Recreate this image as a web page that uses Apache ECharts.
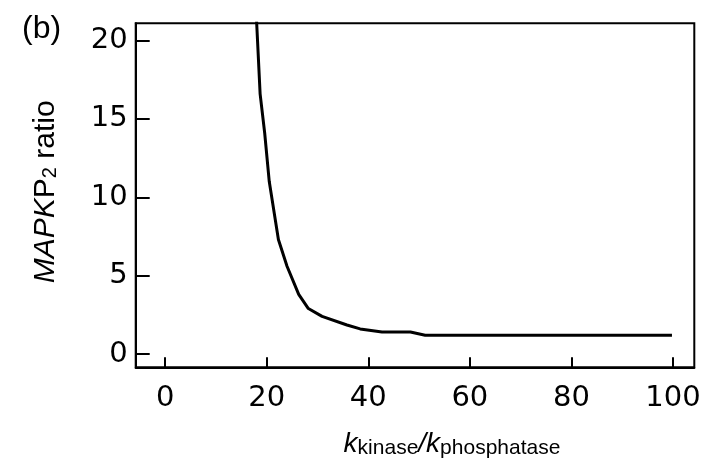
<!DOCTYPE html>
<html>
<head>
<meta charset="utf-8">
<script src="https://cdn.jsdelivr.net/npm/echarts@6/dist/echarts.min.js"></script>
<style>
  html, body { margin: 0; padding: 0; background: #fff; }
  #chart { width: 712px; height: 469px; }
</style>
</head>
<body>
<div id="chart"></div>
<script>
// Ratio of doubly phosphorylated MAPK versus kinase/phosphatase rate ratio
const rateRatio = [17.95, 18.7, 19.6, 20.5, 22.3, 24.0, 26.3, 28.2, 30.9, 35.8, 38.4, 42.7, 48.3, 51.2, 99.8];
const mapkp2Ratio = [21.6, 16.6, 14.1, 11.0, 7.3, 5.6, 3.8, 2.9, 2.4, 1.85, 1.6, 1.4, 1.4, 1.2, 1.2];

const xTicks = [0, 20, 40, 60, 80, 100];
const yTicks = [0, 5, 10, 15, 20];

const panelLabel = '(b)';

const tickFont = 'DejaVu Sans';
const nameFont = 'Liberation Sans';

const chart = echarts.init(document.getElementById('chart'), null, { renderer: 'canvas' });

const seriesData = rateRatio.map((x, i) => [x, mapkp2Ratio[i]]);

chart.setOption({
  backgroundColor: '#fff',
  animation: false,
  title: {
    text: panelLabel,
    left: 17,
    top: 8,
    textStyle: { fontFamily: nameFont, fontSize: 32, fontWeight: 'normal', color: '#000' }
  },
  grid: {
    left: 135.7, right: 17.7, top: 23.3, bottom: 101.7,
    show: true, borderColor: '#000', borderWidth: 2, backgroundColor: 'transparent'
  },
  xAxis: {
    type: 'value',
    min: -5.8, max: 104.2,
    axisLine: { show: true, onZero: false, lineStyle: { color: '#000', width: 2 } },
    axisTick: { show: true, inside: true, length: 10, customValues: xTicks, lineStyle: { color: '#000', width: 2 } },
    axisLabel: {
      show: true, customValues: xTicks, margin: 17,
      fontFamily: tickFont, fontSize: 29, color: '#000'
    },
    splitLine: { show: false },
    name: '{k|k}{s|kinase}{k|/k}{s|phosphatase}',
    nameLocation: 'middle',
    nameGap: 63,
    nameTextStyle: {
      padding: [0, 0, 0, 74],
      rich: {
        k: { fontFamily: nameFont, fontSize: 28, fontStyle: 'italic', color: '#000', lineHeight: 28, verticalAlign: 'top' },
        s: { fontFamily: nameFont, fontSize: 21, color: '#000', lineHeight: 21, verticalAlign: 'bottom', padding: [13, 0, 0, 0] }
      }
    }
  },
  yAxis: {
    type: 'value',
    min: -0.85, max: 21.1,
    axisLine: { show: true, onZero: false, lineStyle: { color: '#000', width: 2 } },
    axisTick: { show: true, inside: true, length: 14, customValues: yTicks, lineStyle: { color: '#000', width: 2 } },
    axisLabel: {
      show: true, customValues: yTicks, margin: 8,
      fontFamily: tickFont, fontSize: 29, color: '#000'
    },
    splitLine: { show: false },
    name: '{i|MAPK}{n|P}{s|2}{n| ratio}',
    nameLocation: 'middle',
    nameRotate: 90,
    nameGap: 75,
    nameTextStyle: {
      padding: [0, 0, 0, 7],
      rich: {
        i: { fontFamily: nameFont, fontSize: 30, fontStyle: 'italic', color: '#000', lineHeight: 30, verticalAlign: 'top' },
        n: { fontFamily: nameFont, fontSize: 30, color: '#000', lineHeight: 30, verticalAlign: 'top' },
        s: { fontFamily: nameFont, fontSize: 20, color: '#000', lineHeight: 20, verticalAlign: 'bottom', padding: [14, 0, 0, 0] }
      }
    }
  },
  series: [{
    type: 'line',
    data: seriesData,
    showSymbol: false,
    symbol: 'none',
    clip: true,
    lineStyle: { color: '#000', width: 3 },
    z: 3
  }]
});
</script>
</body>
</html>
